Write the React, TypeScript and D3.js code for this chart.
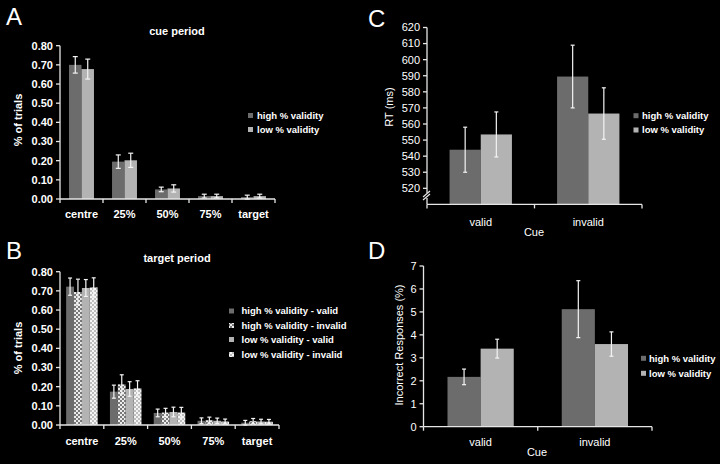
import React from "react";
import * as d3 from "d3";

// ---------- data ----------
const periodCats = ["centre", "25%", "50%", "75%", "target"];

// Panel A: cue period
const cueHigh = [0.70, 0.195, 0.05, 0.015, 0.01];
const cueHighErr = [0.043, 0.035, 0.012, 0.01, 0.01];
const cueLow = [0.678, 0.202, 0.055, 0.015, 0.015];
const cueLowErr = [0.052, 0.037, 0.019, 0.01, 0.01];
const cueLegend = ["high % validity", "low % validity"];

// Panel B: target period
const tgtHighValid = [0.722, 0.174, 0.063, 0.022, 0.012];
const tgtHighValidErr = [0.045, 0.034, 0.02, 0.015, 0.012];
const tgtHighInvalid = [0.694, 0.212, 0.065, 0.025, 0.02];
const tgtHighInvalidErr = [0.067, 0.05, 0.022, 0.016, 0.014];
const tgtLowValid = [0.715, 0.188, 0.068, 0.022, 0.018];
const tgtLowValidErr = [0.044, 0.038, 0.025, 0.014, 0.012];
const tgtLowInvalid = [0.718, 0.191, 0.065, 0.018, 0.017];
const tgtLowInvalidErr = [0.05, 0.04, 0.027, 0.013, 0.012];
const tgtLegend = [
  "high % validity - valid",
  "high % validity - invalid",
  "low % validity - valid",
  "low % validity - invalid",
];

// Panel C: RT
const cueCats = ["valid", "invalid"];
const rtHigh = [544, 589.5];
const rtHighErr = [14, 19.5];
const rtLow = [553.5, 566.5];
const rtLowErr = [14, 16];
const rtTicks = [520, 530, 540, 550, 560, 570, 580, 590, 600, 610, 620];

// Panel D: incorrect responses
const errHigh = [2.17, 5.12];
const errHighErr = [0.34, 1.24];
const errLow = [3.4, 3.6];
const errLowErr = [0.41, 0.53];
const errTicks = [0, 1, 2, 3, 4, 5, 6, 7];

const propTicks = [0, 0.1, 0.2, 0.3, 0.4, 0.5, 0.6, 0.7, 0.8];

// ---------- style ----------
const DARK = "#6c6c6c";
const LIGHT = "#b3b3b3";
const AXIS = "#e6e6e6";
const FONT = "'Liberation Sans', Arial, sans-serif";

type Series = { vals: number[]; errs: number[]; fill: string };

function BarPanel(props: {
  cats: string[];
  series: Series[];
  x0: number;
  x1: number;
  y: d3.ScaleLinear<number, number>;
  yBase: number;
  ticks: number[];
  fmt: (v: number) => string;
  groupFrac: number;
  bold: boolean;
  tickSize: number;
  catSize: number;
  catY: number;
  cap: number;
}) {
  const { cats, series, x0, x1, y, yBase, ticks, fmt, groupFrac, bold, tickSize, catSize, catY, cap } = props;
  const xb = d3.scaleBand<string>().domain(cats).range([x0, x1]).padding(0);
  const gw = xb.bandwidth() * groupFrac;
  const inner = d3
    .scaleBand<number>()
    .domain(series.map((_, i) => i))
    .range([0, gw])
    .padding(0);
  const weight = bold ? "bold" : "normal";
  const boundaries = [...cats.map((c) => xb(c)!), x1];
  return (
    <g>
      {cats.map((c, ci) => {
        const gx = xb(c)! + (xb.bandwidth() - gw) / 2;
        return (
          <g key={c}>
            {series.map((s, si) => {
              const bx = gx + inner(si)!;
              const top = y(s.vals[ci]);
              return (
                <rect key={si} x={bx} y={top} width={inner.bandwidth()} height={yBase - top} fill={s.fill} />
              );
            })}
            {series.map((s, si) => {
              const cx = gx + inner(si)! + inner.bandwidth() / 2;
              const hi = y(s.vals[ci] + s.errs[ci]);
              const lo = y(Math.max(0, s.vals[ci] - s.errs[ci]));
              return (
                <g key={"e" + si} stroke="#f4f4f4" strokeWidth={1.2}>
                  <line x1={cx} x2={cx} y1={hi} y2={lo} />
                  <line x1={cx - cap / 2} x2={cx + cap / 2} y1={hi} y2={hi} />
                  <line x1={cx - cap / 2} x2={cx + cap / 2} y1={lo} y2={lo} />
                </g>
              );
            })}
            <text
              x={xb(c)! + xb.bandwidth() / 2}
              y={catY}
              textAnchor="middle"
              fill="#fff"
              fontSize={catSize}
              fontWeight={weight}
              fontFamily={FONT}
            >
              {c}
            </text>
          </g>
        );
      })}
      {/* axes */}
      <g stroke={AXIS} strokeWidth={1.3} fill="none">
        <line x1={x0} x2={x0} y1={y(ticks[ticks.length - 1])} y2={yBase} />
        <line x1={x0} x2={x1} y1={yBase} y2={yBase} />
        {ticks.map((t) => (
          <line key={t} x1={x0 - 4} x2={x0} y1={y(t)} y2={y(t)} />
        ))}
        {boundaries.map((b, i) => (
          <line key={i} x1={b} x2={b} y1={yBase} y2={yBase + 4} />
        ))}
      </g>
      {ticks.map((t) => (
        <text
          key={t}
          x={x0 - 7}
          y={y(t)}
          dy="0.35em"
          textAnchor="end"
          fill="#fff"
          fontSize={tickSize}
          fontWeight={weight}
          fontFamily={FONT}
        >
          {fmt(t)}
        </text>
      ))}
    </g>
  );
}

function Legend(props: { x: number; ys: number[]; labels: string[]; fills: string[]; textX: number }) {
  return (
    <g>
      {props.labels.map((l, i) => (
        <g key={l}>
          <rect x={props.x} y={props.ys[i] - 2.5} width={5} height={5} fill={props.fills[i]} />
          <text
            x={props.textX}
            y={props.ys[i]}
            dy="0.35em"
            fill="#fff"
            fontSize={9.5}
            fontWeight="bold"
            fontFamily={FONT}
          >
            {l}
          </text>
        </g>
      ))}
    </g>
  );
}

function PanelLetter(props: { x: number; y: number; t: string }) {
  return (
    <text x={props.x} y={props.y} fill="#fff" fontSize={24} fontFamily={FONT}>
      {props.t}
    </text>
  );
}

export default function App() {
  const f2 = d3.format(".2f");
  const fi = d3.format("d");

  const yA = d3.scaleLinear().domain([0, 0.8]).range([199, 45.7]);
  const yB = d3.scaleLinear().domain([0, 0.8]).range([425, 271.7]);
  const yC = d3.scaleLinear().domain([510, 620]).range([204.4, 27.5]);
  const yD = d3.scaleLinear().domain([0, 7]).range([426.7, 266]);

  return (
    <svg
      width={720}
      height={464}
      style={{ position: "absolute", left: 0, top: 0, background: "#000" }}
    >
      <defs>
        <pattern id="chkDark" width={4} height={4} patternUnits="userSpaceOnUse">
          <rect width={4} height={4} fill="#ececec" />
          <rect width={2} height={2} fill="#7a7a7a" />
          <rect x={2} y={2} width={2} height={2} fill="#7a7a7a" />
        </pattern>
        <pattern id="chkLight" width={4} height={4} patternUnits="userSpaceOnUse">
          <rect width={4} height={4} fill="#f4f4f4" />
          <rect width={2} height={2} fill="#bdbdbd" />
          <rect x={2} y={2} width={2} height={2} fill="#bdbdbd" />
        </pattern>
      </defs>
      <rect width={720} height={464} fill="#000" />

      {/* ---------- A ---------- */}
      <PanelLetter x={6} y={25} t="A" />
      <text x={177} y={34.5} textAnchor="middle" fill="#fff" fontSize={11} fontWeight="bold" fontFamily={FONT}>
        cue period
      </text>
      <text
        transform="translate(22,120) rotate(-90)"
        textAnchor="middle"
        fill="#fff"
        fontSize={11}
        fontWeight="bold"
        fontFamily={FONT}
      >
        % of trials
      </text>
      <BarPanel
        cats={periodCats}
        series={[
          { vals: cueHigh, errs: cueHighErr, fill: DARK },
          { vals: cueLow, errs: cueLowErr, fill: LIGHT },
        ]}
        x0={60}
        x1={275}
        y={yA}
        yBase={199}
        ticks={propTicks}
        fmt={f2}
        groupFrac={0.58}
        bold={true}
        tickSize={11}
        catSize={11}
        catY={218}
        cap={5}
      />
      <Legend x={248} textX={257} ys={[115.5, 129.5]} labels={cueLegend} fills={[DARK, LIGHT]} />

      {/* ---------- B ---------- */}
      <PanelLetter x={6} y={259} t="B" />
      <text x={177} y={262} textAnchor="middle" fill="#fff" fontSize={11} fontWeight="bold" fontFamily={FONT}>
        target period
      </text>
      <text
        transform="translate(22,348) rotate(-90)"
        textAnchor="middle"
        fill="#fff"
        fontSize={11}
        fontWeight="bold"
        fontFamily={FONT}
      >
        % of trials
      </text>
      <BarPanel
        cats={periodCats}
        series={[
          { vals: tgtHighValid, errs: tgtHighValidErr, fill: DARK },
          { vals: tgtHighInvalid, errs: tgtHighInvalidErr, fill: "url(#chkDark)" },
          { vals: tgtLowValid, errs: tgtLowValidErr, fill: LIGHT },
          { vals: tgtLowInvalid, errs: tgtLowInvalidErr, fill: "url(#chkLight)" },
        ]}
        x0={60}
        x1={279}
        y={yB}
        yBase={425}
        ticks={propTicks}
        fmt={f2}
        groupFrac={0.72}
        bold={true}
        tickSize={11}
        catSize={11}
        catY={444.5}
        cap={4}
      />
      <Legend
        x={229}
        textX={241.5}
        ys={[311, 325.5, 339.5, 354.5]}
        labels={tgtLegend}
        fills={[DARK, "url(#chkDark)", LIGHT, "url(#chkLight)"]}
      />

      {/* ---------- C ---------- */}
      <PanelLetter x={368} y={27} t="C" />
      <text
        transform="translate(393,107) rotate(-90)"
        textAnchor="middle"
        fill="#fff"
        fontSize={11}
        fontFamily={FONT}
      >
        RT (ms)
      </text>
      <BarPanel
        cats={cueCats}
        series={[
          { vals: rtHigh, errs: rtHighErr, fill: DARK },
          { vals: rtLow, errs: rtLowErr, fill: LIGHT },
        ]}
        x0={427}
        x1={642}
        y={yC}
        yBase={204.4}
        ticks={rtTicks}
        fmt={fi}
        groupFrac={0.58}
        bold={false}
        tickSize={11}
        catSize={11}
        catY={225.5}
        cap={4}
      />
      {/* axis break */}
      <rect x={424} y={193} width={6} height={5} fill="#000" />
      <g stroke={AXIS} strokeWidth={1.2}>
        <line x1={423} y1={197} x2={430} y2={191} />
        <line x1={423} y1={200} x2={430} y2={194} />
      </g>
      <text x={534} y={236} textAnchor="middle" fill="#fff" fontSize={11} fontFamily={FONT}>
        Cue
      </text>
      <Legend x={633.5} textX={642} ys={[115.7, 130]} labels={cueLegend} fills={[DARK, LIGHT]} />

      {/* ---------- D ---------- */}
      <PanelLetter x={368} y={259} t="D" />
      <text
        transform="translate(403,345) rotate(-90)"
        textAnchor="middle"
        fill="#fff"
        fontSize={11}
        fontFamily={FONT}
      >
        Incorrect Responses (%)
      </text>
      <BarPanel
        cats={cueCats}
        series={[
          { vals: errHigh, errs: errHighErr, fill: DARK },
          { vals: errLow, errs: errLowErr, fill: LIGHT },
        ]}
        x0={423.5}
        x1={652}
        y={yD}
        yBase={426.7}
        ticks={errTicks}
        fmt={fi}
        groupFrac={0.58}
        bold={false}
        tickSize={11}
        catSize={11}
        catY={446}
        cap={4}
      />
      <text x={537} y={455.5} textAnchor="middle" fill="#fff" fontSize={11} fontFamily={FONT}>
        Cue
      </text>
      <Legend x={641} textX={649} ys={[358.3, 373.3]} labels={cueLegend} fills={[DARK, LIGHT]} />
    </svg>
  );
}
